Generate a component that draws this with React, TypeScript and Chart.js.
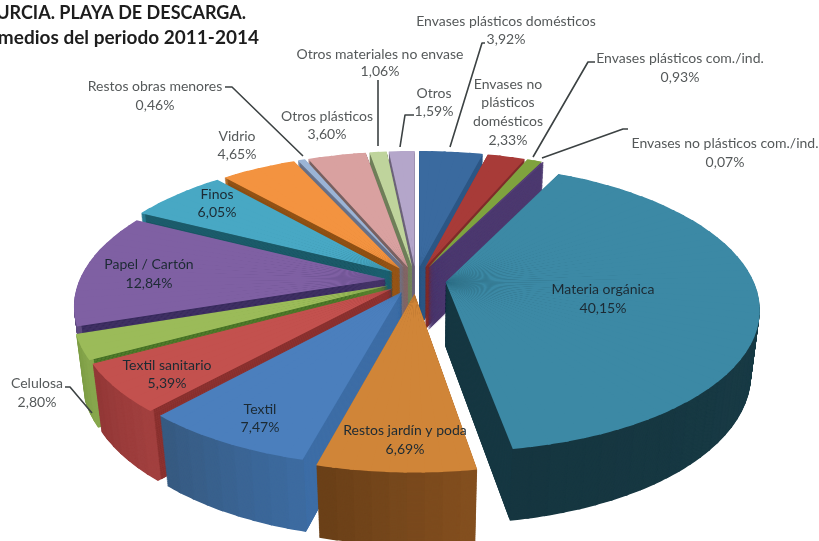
import { useEffect, useRef } from "react";
import { Chart, registerables } from "chart.js";

Chart.register(...registerables);

const categories = [
  "Envases plásticos domésticos", "Envases no plásticos domésticos", "Envases plásticos com./ind.",
  "Envases no plásticos com./ind.", "Materia orgánica", "Restos jardín y poda", "Textil", "Textil sanitario",
  "Celulosa", "Papel / Cartón", "Finos", "Vidrio", "Restos obras menores", "Otros plásticos",
  "Otros materiales no envase", "Otros",
];
const values = [3.92, 2.33, 0.93, 0.07, 40.15, 6.69, 7.47, 5.39, 2.8, 12.84, 6.05, 4.65, 0.46, 3.6, 1.06, 1.59];

const topColors = ["#3a6a9f", "#a83b38", "#7fa33e", "#5f457c", "#3c89a5", "#d08538", "#4b7fbd", "#c3514e", "#9bbb59", "#7f60a3", "#48a8c4", "#f39340", "#9bb4d6", "#d9a1a0", "#bfd49c", "#b4a6ca"];
const wallColors = ["#2c5685", "#7d2b29", "#4d3a70", "#4d3a70", "#173a45", "#6d431b", "#3d6fa9", "#852e2c", "#3e6a20", "#35285a", "#17505c", "#86490f", "#62687f", "#6b5a5a", "#5d6b4a", "#5a5267"];
const rimStart = ["#2f5987", "#86302e", "#4d3a70", "#4d3a70", "#1b414c", "#84501f", "#3d6ca2", "#a34140", "#88a84e", "#5e4a7e", "#2a7a90", "#b06c2a", "#7d8fa9", "#aa7d7c", "#94a679", "#8c8099"];
const rimEnd = ["#2f5987", "#86302e", "#4d3a70", "#4d3a70", "#163640", "#6a3f18", "#375a80", "#923736", "#7d9c45", "#5e4a7e", "#2a7a90", "#b06c2a", "#7d8fa9", "#aa7d7c", "#94a679", "#8c8099"];
const radiusScale = [1, 1, 1, 1, 0.985, 1, 0.985, 0.985, 0.985, 0.983, 1, 1, 1, 1, 1, 1];

// Label text layout: [category index, centre x, first line y, line height, dark?]
const labelLayout: [number, number, number, number, boolean][] = [
  [0, 506, 21, 18, false],
  [2, 680, 58, 19, false],
  [3, 725, 143, 19, false],
  [14, 380, 54, 17, false],
  [15, 434, 93, 18, false],
  [13, 327, 116, 18, false],
  [11, 237, 136, 18, false],
  [12, 155, 86, 19, false],
  [10, 217, 194, 18, true],
  [9, 149, 264, 19, true],
  [8, 37, 383, 19, false],
  [7, 167, 365, 18, true],
  [6, 260, 409, 18, true],
  [5, 405, 430, 19, true],
  [4, 603, 289, 19, true],
];
const wrappedLabel = { index: 1, x: 508, ys: [84, 102, 121, 140], lines: ["Envases no", "plásticos", "domésticos"] };
const leaders = [
  [[225, 87], [232, 87], [303, 156]],
  [[378, 80], [378, 146]],
  [[414, 115], [405, 115], [400, 147]],
  [[485, 43], [482, 43], [450, 147]],
  [[595, 62], [588, 62], [533, 157]],
  [[628, 129], [623, 129], [542, 158]],
  [[65, 387], [70, 387], [92, 413]],
];
const titleLines = ["URCIA. PLAYA DE DESCARGA.", "medios del periodo 2011-2014"];

// Projection of the pie plane
const VIEW = { cx: 416, cy: 280, rx: 312, ry: 141, p: 0.18, q: 0.025, depth: 65, explode: 0.096 };
const FONT = "Lato, 'Open Sans', sans-serif";

const project = (x: number, y: number, z: number) => {
  const w = 1 - VIEW.p * y + VIEW.q * z;
  return [VIEW.cx + (VIEW.rx * x) / w, VIEW.cy + (VIEW.ry * y + VIEW.depth * z) / w];
};

const hex = (s: string) => [1, 3, 5].map((i) => parseInt(s.slice(i, i + 2), 16));
const mix = (a: string, b: string, t: number) => {
  const A = hex(a), B = hex(b);
  return `rgb(${A.map((v, i) => Math.round(v + (B[i] - v) * t)).join(",")})`;
};

const STEP = (3 * Math.PI) / 180;
const OVERLAP = (0.25 * Math.PI) / 180;

function drawWedge(ctx: any, el: any, a1: number, a2: number, lo: number, hi: number, mid: number, z: number, scale: number, fill: string, rScale: number, base: any) {
  const R = base.outerRadius;
  const ex = VIEW.explode * Math.cos(mid), ey = VIEW.explode * Math.sin(mid);
  const P0 = project(ex, ey, z);
  const P1 = project(ex + scale * Math.cos(a1), ey + scale * Math.sin(a1), z);
  const P2 = project(ex + scale * Math.cos(a2), ey + scale * Math.sin(a2), z);
  const s1 = [R * Math.cos(a1), R * Math.sin(a1)], s2 = [R * Math.cos(a2), R * Math.sin(a2)];
  const d1 = [P1[0] - P0[0], P1[1] - P0[1]], d2 = [P2[0] - P0[0], P2[1] - P0[1]];
  const det = s1[0] * s2[1] - s2[0] * s1[1];
  if (Math.abs(det) < 1e-6) return;
  const a = (d1[0] * s2[1] - d2[0] * s1[1]) / det;
  const c = (-d1[0] * s2[0] + d2[0] * s1[0]) / det;
  const b = (d1[1] * s2[1] - d2[1] * s1[1]) / det;
  const d = (-d1[1] * s2[0] + d2[1] * s1[0]) / det;
  ctx.save();
  ctx.transform(a, b, c, d, P0[0] - a * base.x - c * base.y, P0[1] - b * base.x - d * base.y);
  const from = Math.max(lo, a1 - OVERLAP), to = Math.min(hi, a2 + OVERLAP);
  el.startAngle = from;
  el.endAngle = to;
  el.circumference = to - from;
  el.outerRadius = R * rScale;
  el.options = { ...base.options, backgroundColor: fill, borderWidth: 0, offset: 0, spacing: 0 };
  el.draw(ctx);
  ctx.restore();
}

const pie3d = {
  id: "pie3d",
  beforeDatasetsDraw(chart: any) {
    const ctx = chart.ctx;
    const meta = chart.getDatasetMeta(0);
    const items = meta.data.map((el: any, i: number) => {
      const base = { x: el.x, y: el.y, outerRadius: el.outerRadius, startAngle: el.startAngle, endAngle: el.endAngle, circumference: el.circumference, options: el.options };
      const n = Math.max(1, Math.ceil((base.endAngle - base.startAngle) / STEP));
      return { el, i, base, n, mid: (base.startAngle + base.endAngle) / 2, width: (base.endAngle - base.startAngle) / n };
    });
    const layers = 80;
    for (let l = layers; l >= 0; l--) {
      const z = l / layers;
      for (const it of items) {
        for (let k = 0; k < it.n; k++) {
          const a1 = it.base.startAngle + k * it.width, a2 = a1 + it.width;
          const args = [a1, a2, it.base.startAngle, it.base.endAngle, it.mid, z, radiusScale[it.i]] as const;
          if (l > 0) {
            const rim = mix(rimStart[it.i], rimEnd[it.i], (k + 0.5) / it.n);
            drawWedge(ctx, it.el, ...args, rim, 1, it.base);
            drawWedge(ctx, it.el, ...args, wallColors[it.i], 0.985, it.base);
          } else {
            drawWedge(ctx, it.el, ...args, topColors[it.i], 1, it.base);
          }
        }
      }
    }
    for (const it of items) Object.assign(it.el, { startAngle: it.base.startAngle, endAngle: it.base.endAngle, circumference: it.base.circumference, outerRadius: it.base.outerRadius, options: it.base.options });
    return false;
  },
  afterDraw(chart: any) {
    const ctx = chart.ctx;
    ctx.save();
    ctx.lineJoin = "round";
    ctx.strokeStyle = "#3c4243";
    ctx.lineWidth = 1.6;
    for (const pts of leaders) {
      ctx.beginPath();
      pts.forEach((p, i) => (i ? ctx.lineTo(p[0], p[1]) : ctx.moveTo(p[0], p[1])));
      ctx.stroke();
    }
    const pct = (i: number) => values[i].toFixed(2).replace(".", ",") + "%";
    ctx.textAlign = "center";
    ctx.textBaseline = "middle";
    ctx.font = `14px ${FONT}`;
    for (const [i, x, y, lh, dark] of labelLayout) {
      ctx.fillStyle = dark ? "#1c2a33" : "#55595a";
      ctx.fillText(categories[i], x, y);
      ctx.fillText(pct(i), x, y + lh);
    }
    ctx.fillStyle = "#55595a";
    wrappedLabel.lines.forEach((t, k) => ctx.fillText(t, wrappedLabel.x, wrappedLabel.ys[k]));
    ctx.fillText(pct(wrappedLabel.index), wrappedLabel.x, wrappedLabel.ys[3]);
    ctx.textAlign = "right";
    ctx.fillStyle = "#1d1d1d";
    ctx.font = `bold 18px ${FONT}`;
    ctx.fillText(titleLines[0], 246, 13);
    ctx.font = `bold 19px ${FONT}`;
    ctx.fillText(titleLines[1], 259, 38);
    ctx.restore();
  },
};

export default function App() {
  const ref = useRef<HTMLCanvasElement>(null);
  useEffect(() => {
    const chart = new Chart(ref.current!, {
      type: "pie",
      data: {
        labels: categories,
        datasets: [{ data: values, backgroundColor: topColors, borderWidth: 0, radius: 200 } as any],
      },
      options: {
        animation: false,
        responsive: false,
        events: [],
        layout: { padding: 0 },
        plugins: { legend: { display: false }, tooltip: { enabled: false }, title: { display: false } },
      },
      plugins: [pie3d as any],
    });
    return () => chart.destroy();
  }, []);
  return (
    <div style={{ position: "fixed", left: 0, top: 0, width: 819, height: 541, background: "#fff", overflow: "hidden" }}>
      <canvas ref={ref} width={819} height={541} style={{ display: "block", filter: "blur(0.6px)" }} />
    </div>
  );
}
